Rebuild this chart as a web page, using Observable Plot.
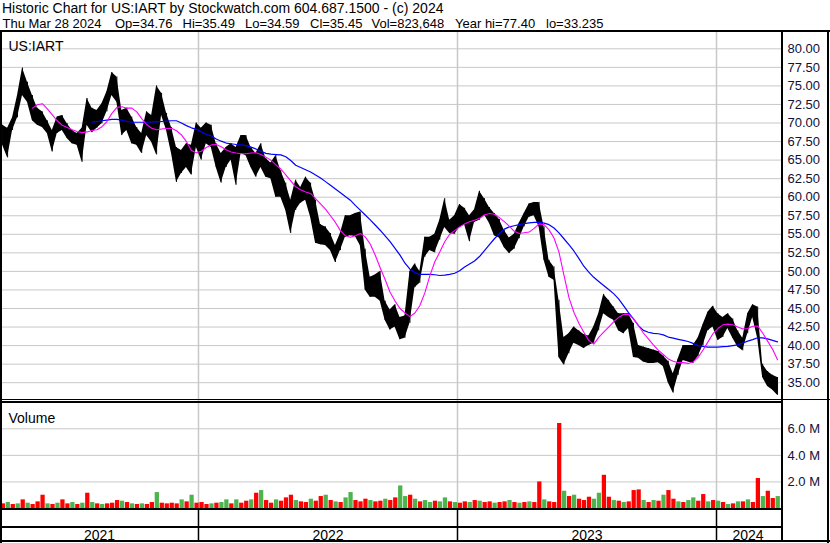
<!DOCTYPE html>
<html><head><meta charset="utf-8">
<script src="https://cdn.jsdelivr.net/npm/d3@7"></script>
<script src="https://cdn.jsdelivr.net/npm/@observablehq/plot@0.6"></script>
<style>
html,body{margin:0;padding:0;background:#fff;}
#chart{position:relative;width:830px;height:543px;overflow:hidden;background:#fff;font-family:"Liberation Sans",Arial,sans-serif;}
.hdr{position:absolute;font-size:14px;line-height:16px;white-space:pre;color:#000;}
.hdr2{position:absolute;top:16px;font-size:13px;line-height:16px;white-space:pre;color:#000;}
.panel{position:absolute;left:0;}
.ln{position:absolute;background:#000;}
</style></head><body>
<div id="chart">
  <div class="hdr" id="h1" style="left:2px;top:0px"></div>
  <div id="h2"></div>
  <div class="panel" id="price" style="top:31px"></div>
  <div class="panel" id="vol" style="top:402px"></div>
  <div class="panel" id="axis" style="top:509px"></div>
  <div class="ln" style="left:0;top:30px;width:830px;height:2px"></div>
  <div class="ln" style="left:0;top:30px;width:2px;height:513px"></div>
  <div class="ln" style="left:827px;top:30px;width:2px;height:513px"></div>
  <div class="ln" style="left:781px;top:30px;width:2px;height:512px"></div>
  <div class="ln" style="left:0;top:399px;width:830px;height:1px"></div>
  <div class="ln" style="left:0;top:401px;width:783px;height:2px"></div>
  <div class="ln" style="left:0;top:508px;width:783px;height:2px"></div>
  <div class="ln" style="left:0;top:526px;width:783px;height:2px"></div>
  <div class="ln" style="left:0;top:540px;width:830px;height:2px"></div>
</div>
<script>
// ---- text ----
const titleLine = "Historic Chart for US:IART by Stockwatch.com 604.687.1500 - (c) 2024";
const quoteFields = ["Thu Mar 28 2024", "Op=34.76", "Hi=35.49", "Lo=34.59", "Cl=35.45", "Vol=823,648", "Year hi=77.40", "lo=33.235"];
const quoteFieldX = [2.5, 115, 182.5, 245, 310, 371.5, 455, 546];
const symbolLabel = "US:IART";
const volumeLabel = "Volume";

// ---- weekly data (week i = Wednesday 2021-03-31 + 7*i days) ----
const firstWeek = new Date(Date.UTC(2021, 2, 31));
const weeklyHigh = [69.7,69.3,70.7,73.7,77.4,75.5,73.7,72.0,71.5,70.3,
 69.0,70.8,71.0,69.9,69.0,68.6,69.3,73.3,72.0,71.7,
 72.6,74.2,76.8,76.2,71.7,72.0,70.8,69.4,68.6,71.5,
 71.0,75.0,74.0,71.3,69.4,66.7,66.3,67.2,67.0,70.0,
 69.3,70.0,69.7,67.2,65.9,66.7,67.2,66.7,68.3,68.3,
 66.7,65.9,67.2,65.2,64.6,65.6,63.6,61.9,59.6,62.3,
 61.3,62.7,61.9,59.6,56.3,56.0,55.1,53.5,55.1,57.5,
 57.5,57.8,58.0,53.0,49.2,49.5,50.0,46.0,44.8,45.5,
 43.8,44.0,50.0,51.0,50.0,54.6,54.6,55.0,56.9,59.8,
 56.9,57.5,59.0,58.5,57.5,58.3,60.8,59.8,58.6,57.8,
 57.0,55.5,54.5,55.0,56.5,57.8,59.1,59.3,59.3,56.0,
 51.5,50.6,46.1,41.1,41.6,42.5,42.0,41.5,41.3,42.5,
 44.3,46.9,46.1,45.2,44.3,44.3,44.3,43.0,40.0,39.8,
 39.6,39.4,39.2,38.6,37.9,36.2,38.2,40.0,40.0,40.0,
 41.0,42.8,44.5,45.3,44.3,43.8,44.3,43.6,42.0,41.0,
 44.3,45.5,45.2,37.5,36.5,36.0,35.7];
const weeklyLow = [67.0,65.3,69.0,70.7,73.7,72.8,70.3,69.7,69.4,68.6,
 66.1,68.6,69.0,67.9,67.2,67.0,64.7,69.7,68.7,69.3,
 69.9,71.5,73.7,72.8,68.3,69.0,67.2,67.0,65.9,68.3,
 67.4,65.7,71.0,69.0,65.9,62.0,63.2,64.0,63.0,66.7,
 65.0,67.2,66.7,64.0,61.9,64.0,65.0,61.6,65.9,65.6,
 64.0,62.7,64.0,62.7,62.5,60.0,60.0,58.2,55.1,58.2,
 59.2,59.6,57.3,53.8,53.6,53.5,52.8,51.2,52.8,54.6,
 54.8,54.7,53.5,47.5,46.5,46.5,46.0,43.4,42.1,42.5,
 40.8,41.0,43.0,47.8,48.4,51.9,52.8,52.5,54.2,55.9,
 55.1,55.0,55.9,56.3,54.0,56.6,56.9,57.6,56.5,54.8,
 54.5,53.2,52.4,53.0,54.4,56.0,57.3,57.5,56.0,51.5,
 49.2,48.8,38.4,37.4,38.9,40.3,40.0,39.6,40.0,40.3,
 42.0,44.3,43.8,43.4,42.0,41.6,42.3,38.4,38.3,37.8,
 37.6,37.6,37.7,37.2,35.0,33.6,36.0,38.0,37.8,37.6,
 38.5,40.0,42.0,42.5,40.7,41.1,42.3,41.0,39.8,39.3,
 41.6,43.8,41.0,35.7,34.5,34.0,33.3];
// magenta moving average, starts at week 6
const fastStart = 6;
const fastMA = [72.0,72.45,72.6,71.9,71.1,70.3,69.7,69.4,69.1,68.85,
 68.7,68.8,69.0,69.1,69.5,70.2,71.3,72.1,72.2,72.0,
 72.0,71.5,70.6,69.8,69.3,69.1,69.2,69.25,69.3,68.95,
 68.4,67.5,66.3,66.0,66.2,66.7,67.05,67.1,66.8,66.4,
 66.1,65.95,65.85,65.85,65.95,66.0,65.75,65.4,65.0,64.35,
 63.8,63.0,62.2,61.4,61.0,60.7,60.5,59.8,59.1,58.4,
 57.5,56.6,55.5,54.8,54.6,54.8,55.1,54.65,53.7,52.2,
 50.5,48.9,47.2,46.0,45.0,44.4,43.9,44.4,45.4,47.1,
 49.4,51.3,52.6,54.0,55.0,55.5,56.0,56.4,56.7,56.9,
 57.15,57.6,57.8,57.7,57.25,56.7,56.1,55.4,55.1,55.2,
 55.3,55.8,56.4,56.3,55.6,54.5,52.6,49.5,46.5,44.5,
 43.0,41.8,40.7,40.2,41.1,41.8,42.5,43.2,43.8,44.2,
 44.2,43.6,42.7,41.7,40.9,40.1,39.4,38.8,38.2,37.9,
 37.7,37.7,37.6,37.8,38.4,39.4,40.5,41.6,42.3,42.8,
 42.9,42.8,42.5,42.25,42.3,42.6,42.65,41.7,40.6,39.5,
 38.1];
// blue moving average, starts at week 18
const slowStart = 18;
const slowMA = [70.1,70.2,70.3,70.4,70.5,70.5,70.4,70.2,70.1,70.1,
 70.1,70.1,70.15,70.15,70.2,70.25,70.3,70.3,70.0,69.65,
 69.35,69.15,68.8,68.45,68.25,67.85,67.55,67.3,67.2,67.1,
 67.05,66.95,66.75,66.5,66.2,65.9,65.8,65.75,65.7,65.45,
 64.95,64.3,64.0,63.7,63.4,63.0,62.6,62.1,61.6,61.1,
 60.6,60.1,59.6,58.9,58.25,57.6,56.95,56.25,55.55,54.8,
 54.0,53.1,52.2,51.1,50.3,49.85,49.6,49.6,49.6,49.55,
 49.45,49.5,49.6,49.75,50.1,50.6,51.0,51.4,52.0,52.8,
 53.6,54.4,55.1,55.7,56.0,56.15,56.3,56.45,56.55,56.6,
 56.6,56.5,56.3,55.85,55.2,54.4,53.6,52.75,51.75,50.7,
 49.9,49.2,48.65,48.1,47.55,47.0,46.3,45.4,44.45,43.6,
 42.7,42.05,41.8,41.65,41.6,41.45,41.15,41.0,40.85,40.7,
 40.55,40.3,40.0,39.9,39.8,39.8,39.8,39.85,39.9,40.0,
 40.1,40.35,40.6,40.8,41.05,41.05,40.9,40.7,40.5];
// volume in millions, one bar per week; r = down, g = up
const weeklyVolume = [0.35,0.45,0.3,0.35,0.65,0.4,0.3,0.5,1.0,0.35,
 0.3,0.4,0.65,0.35,0.45,0.3,0.4,1.15,0.45,0.35,
 0.3,0.35,0.4,0.6,0.55,0.45,0.35,0.3,0.35,0.3,
 0.45,1.2,0.4,0.35,0.4,0.35,0.65,0.5,1.0,0.4,
 0.45,0.3,0.35,0.4,0.45,0.65,0.35,0.65,0.4,0.55,
 0.65,1.15,1.35,0.6,0.4,0.65,0.55,0.8,1.0,0.6,
 0.5,0.45,0.7,0.55,0.9,1.0,0.6,0.5,0.45,0.8,
 1.2,0.6,0.5,0.7,0.6,0.5,0.55,0.7,0.6,0.8,
 1.7,0.9,1.0,0.7,0.5,0.6,0.45,0.55,0.5,0.8,
 0.5,0.45,0.4,0.5,0.45,0.6,0.55,0.45,0.5,0.4,
 0.45,0.5,0.6,0.45,0.4,0.45,0.5,0.45,2.0,0.65,
 0.5,0.45,6.4,1.3,0.9,1.0,0.7,0.6,0.85,0.7,
 1.15,2.5,0.85,0.6,0.55,0.45,0.5,1.35,1.4,0.6,
 0.45,0.6,0.55,1.0,1.35,0.7,0.5,0.45,0.6,0.8,
 0.55,1.05,0.5,0.6,0.55,0.45,0.3,0.35,0.5,0.5,
 0.65,0.45,2.26,0.9,1.3,0.75,0.9];
const volumeDir = "rgrgrgrrrg" + "rgrrgrgrgr" + "grrrgrgrgr" + "rgrrrrgrgr" + "rrgrggrgrr" +
  "grgrrgrrrg" + "rrgrrgrgrg" + "grrrgrrgrr" + "ggrgrggrgg" + "rgrrgrgrrg" +
  "rrgrgrgrrg" + "rrrgrgrrrg" + "grrgrgrrrg" + "rgrgrrgrgg" + "rrgrgrgrgr" + "grrgrrg";

// ---- axes ----
const priceTicks = [80, 77.5, 75, 72.5, 70, 67.5, 65, 62.5, 60, 57.5, 55, 52.5, 50, 47.5, 45, 42.5, 40, 37.5, 35];
const volumeTicks = [2, 4, 6];
const years = [2021, 2022, 2023, 2024];
const domainStart = new Date(Date.UTC(2021, 2, 28));
const domainEnd = new Date(Date.UTC(2024, 3, 3));

// ---- tables ----
const weekDate = i => d3.utcDay.offset(firstWeek, 7 * i);
const bars = weeklyHigh.map((hi, i) => ({date: weekDate(i), hi, lo: weeklyLow[i]}));
const fast = fastMA.map((v, k) => ({date: weekDate(fastStart + k), v}));
const slow = slowMA.map((v, k) => ({date: weekDate(slowStart + k), v}));
const vols = weeklyVolume.map((v, i) => ({
  x1: d3.utcDay.offset(weekDate(i), -2), x2: d3.utcDay.offset(weekDate(i), 4), v, dir: volumeDir[i]
}));
const yearStarts = years.slice(1).map(y => new Date(Date.UTC(y, 0, 1)));
const yearLabels = years.map(y => {
  const a = Math.max(+new Date(Date.UTC(y, 0, 1)), +domainStart);
  const b = Math.min(+new Date(Date.UTC(y + 1, 0, 1)), +domainEnd - 4 * 864e5);
  return {label: String(y), date: new Date((a + b) / 2)};
});

document.getElementById("h1").textContent = titleLine;
const h2 = document.getElementById("h2");
quoteFields.forEach((t, i) => {
  const s = document.createElement("div");
  s.className = "hdr2";
  s.style.left = quoteFieldX[i] + "px";
  s.textContent = t;
  h2.appendChild(s);
});

const FONT = '"Liberation Sans", Arial, sans-serif';
const xScale = {type: "utc", domain: [domainStart, domainEnd], range: [0, 782], axis: null};
const baseStyle = {fontFamily: FONT, fontSize: "13px", background: "transparent", overflow: "visible"};
const grid = "#c8c8c8";
const labelColor = "#10103a";

const price = Plot.plot({
  width: 830, height: 371, marginLeft: 0, marginRight: 48, marginTop: 0, marginBottom: 0,
  style: baseStyle,
  x: xScale,
  y: {domain: [35, 80], range: [351.2, 17.3], axis: null, label: null},
  marks: [
    Plot.ruleY(priceTicks, {stroke: grid, strokeWidth: 1}),
    Plot.ruleX(yearStarts, {stroke: grid, strokeWidth: 1.5}),
    Plot.areaY(bars, {x: "date", y1: "lo", y2: "hi", fill: "#000", curve: "linear"}),
    Plot.ruleX(bars, {x: "date", y1: "lo", y2: "hi", stroke: "#000", strokeWidth: 1}),
    Plot.lineY(slow, {x: "date", y: "v", stroke: "#0000ff", strokeWidth: 1.2}),
    Plot.lineY(fast, {x: "date", y: "v", stroke: "#ff00ff", strokeWidth: 1.1}),
    Plot.axisY({ticks: priceTicks, anchor: "right", tickSize: 0, tickPadding: 5, label: null,
      tickFormat: d => d.toFixed(2), fontSize: 13, fill: labelColor}),
    Plot.text([symbolLabel], {frameAnchor: "top-left", dx: 8, dy: 10, textAnchor: "start",
      fontSize: 14, fill: "#000"})
  ]
});
document.getElementById("price").appendChild(price);

const vol = Plot.plot({
  width: 830, height: 107, marginLeft: 0, marginRight: 48, marginTop: 0, marginBottom: 0,
  style: baseStyle,
  x: xScale,
  y: {domain: [0, 6], range: [106, 26.3], axis: null, label: null},
  color: {domain: ["g", "r"], range: ["#4db34d", "#ff0000"]},
  marks: [
    Plot.ruleY(volumeTicks, {stroke: grid, strokeWidth: 1}),
    Plot.ruleX(yearStarts, {stroke: grid, strokeWidth: 1.5}),
    Plot.rectY(vols, {x1: "x1", x2: "x2", y: "v", fill: "dir", inset: 0}),
    Plot.axisY({ticks: volumeTicks, anchor: "right", tickSize: 0, tickPadding: 5, label: null,
      tickFormat: d => d.toFixed(1) + " M", fontSize: 13, fill: labelColor}),
    Plot.text([volumeLabel], {frameAnchor: "top-left", dx: 8, dy: 11, textAnchor: "start",
      fontSize: 14, fill: "#000"})
  ]
});
document.getElementById("vol").appendChild(vol);

const axis = Plot.plot({
  width: 830, height: 34, marginLeft: 0, marginRight: 48, marginTop: 0, marginBottom: 0,
  style: baseStyle,
  x: xScale,
  y: {type: "identity", axis: null},
  marks: [
    Plot.ruleX(yearStarts, {y1: 0, y2: 32, stroke: "#000", strokeWidth: 1.5}),
    Plot.text(yearLabels, {x: "date", y: 26, text: "label", fontSize: 14, fill: "#000"})
  ]
});
document.getElementById("axis").appendChild(axis);
</script>
</body></html>
